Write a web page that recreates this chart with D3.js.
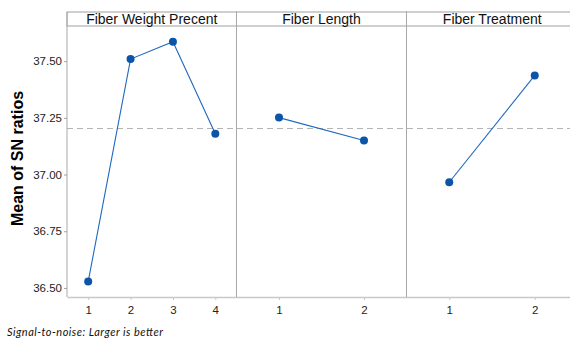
<!DOCTYPE html>
<html>
<head>
<meta charset="utf-8">
<script src="https://cdn.jsdelivr.net/npm/d3@7"></script>
<style>
  body { margin: 0; background: #fff; }
  svg { display: block; }
</style>
</head>
<body>
<svg id="viz" width="570" height="340"></svg>
<script>
// factor names and their levels / mean SN ratios
const factors = ["Fiber Weight Precent", "Fiber Length", "Fiber Treatment"];
const levels = [[1, 2, 3, 4], [1, 2], [1, 2]];
const snMeans = [
    [36.528, 37.509, 37.586, 37.18],
    [37.251, 37.15],
    [36.966, 37.437]
];
const grandMean = 37.203;
const yTicks = [36.5, 36.75, 37.0, 37.25, 37.5];

let svg = d3.select("#viz");

let plotTop = 12, stripH = 14, plotBottom = 297;
let panelEdges = [67, 236.5, 406.5, 577.5];

let y = d3.scaleLinear()
    .domain([36.46, 37.655])
    .range([plotBottom, plotTop + stripH]);

// y axis
let yAxis = d3.axisLeft(y)
    .tickValues(yTicks)
    .tickFormat(d3.format(".2f"))
    .tickSize(3)
    .tickSizeOuter(0);
let yg = svg.append("g")
    .attr("transform", "translate(" + panelEdges[0] + ",0)")
    .call(yAxis);
yg.select(".domain").remove();
yg.selectAll(".tick line").attr("stroke", "#a0a0a0");
yg.selectAll(".tick text")
    .attr("font-family", "Liberation Sans, Arial, sans-serif")
    .attr("font-size", 11.5)
    .attr("fill", "#222")
    .attr("x", -5);

svg.append("text")
    .text("Mean of SN ratios")
    .attr("transform", "translate(23," + ((plotTop + plotBottom) / 2 + 4) + ") rotate(-90)")
    .attr("text-anchor", "middle")
    .attr("font-family", "Liberation Sans, Arial, sans-serif")
    .attr("font-weight", "bold")
    .attr("font-size", 16)
    .attr("fill", "#000");

// dashed grand mean line
svg.append("line")
    .attr("x1", panelEdges[0]).attr("x2", 570)
    .attr("y1", y(grandMean)).attr("y2", y(grandMean))
    .attr("stroke", "#b4b4b4")
    .attr("stroke-width", 1.2)
    .attr("stroke-dasharray", "6,4");

factors.forEach(function (name, i) {
    let x0 = panelEdges[i], x1 = panelEdges[i + 1];
    let lv = levels[i];
    let x = d3.scaleLinear()
        .domain([0.5, lv.length + 0.5])
        .range([x0, x1]);

    // bottom axis
    let xAxis = d3.axisBottom(x)
        .tickValues(lv)
        .tickFormat(d3.format("d"))
        .tickSize(3)
        .tickSizeOuter(0);
    let xg = svg.append("g")
        .attr("transform", "translate(0," + plotBottom + ")")
        .call(xAxis);
    xg.select(".domain").attr("stroke", "#c8c8c8").attr("stroke-width", 1.5);
    xg.selectAll(".tick line").attr("stroke", "#c8c8c8");
    xg.selectAll(".tick text")
        .attr("font-family", "Liberation Sans, Arial, sans-serif")
        .attr("font-size", 11.5)
        .attr("fill", "#222")
        .attr("y", 8.5);

    // strip header
    svg.append("rect")
        .attr("x", x0).attr("y", plotTop)
        .attr("width", x1 - x0).attr("height", stripH)
        .attr("fill", "#fff")
        .attr("stroke", "#a0a0a0");
    svg.append("text")
        .text(name)
        .attr("x", (x0 + Math.min(x1, 570)) / 2 + (i == 2 ? 4 : 0))
        .attr("y", plotTop + stripH / 2 + 5)
        .attr("text-anchor", "middle")
        .attr("font-family", "Liberation Sans, Arial, sans-serif")
        .attr("font-size", 14)
        .attr("fill", "#111");

    // panel left border
    svg.append("line")
        .attr("x1", x0).attr("x2", x0)
        .attr("y1", plotTop).attr("y2", plotBottom)
        .attr("stroke", "#a8a8a8");

    let pts = lv.map((l, j) => [l, snMeans[i][j]]);
    svg.append("path")
        .datum(pts)
        .attr("d", d3.line().x(d => x(d[0])).y(d => y(d[1])))
        .attr("fill", "none")
        .attr("stroke", "#1f68bd")
        .attr("stroke-width", 1.1);
    svg.selectAll(".pt" + i)
        .data(pts)
        .join("circle")
        .attr("cx", d => x(d[0]))
        .attr("cy", d => y(d[1]))
        .attr("r", 4)
        .attr("fill", "#0a55a8");
});

svg.append("text")
    .text("Signal-to-noise: Larger is better")
    .attr("x", 7)
    .attr("y", 336)
    .attr("font-family", "Lato, Open Sans, sans-serif")
    .attr("font-style", "italic")
    .attr("font-size", 11)
    .attr("textLength", 156)
    .attr("lengthAdjust", "spacing")
    .attr("fill", "#111");
</script>
</body>
</html>
